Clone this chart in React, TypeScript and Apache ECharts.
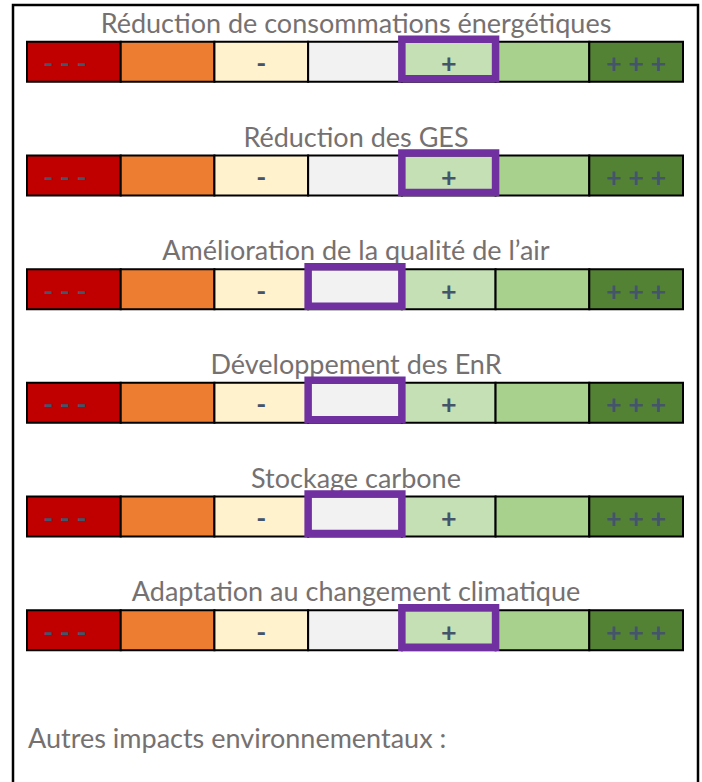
import React, { useEffect, useRef } from 'react';
import * as echarts from 'echarts';

const criteria = [
  'Réduction de consommations énergétiques',
  'Réduction des GES',
  'Amélioration de la qualité de l’air',
  'Développement des EnR',
  'Stockage carbone',
  'Adaptation au changement climatique',
];
const levels = ['---', '--', '-', '0', '+', '++', '+++'];
const levelLabels = ['- - -', '', '-', '', '+', '', '+ + +'];
const levelColors = ['#C00000', '#ED7D31', '#FFF2CC', '#F2F2F2', '#C5E0B4', '#A9D18E', '#548235'];
const selectedLevel = [4, 4, 3, 3, 3, 4];
const footerText = 'Autres impacts environnementaux :';

const FONT = 'Lato, "Open Sans", sans-serif';
const BAR_H = 40;

export default function App() {
  const ref = useRef<HTMLDivElement>(null);
  useEffect(() => {
    if (!ref.current) return;
    const chart = echarts.init(ref.current, null, { renderer: 'svg' });

    const cellData: number[][] = [];
    criteria.forEach((_, r) => levels.forEach((__, c) => cellData.push([c, r])));

    chart.setOption({
      animation: false,
      backgroundColor: '#ffffff',
      grid: { left: 27, right: 19, top: 5, bottom: 95 },
      xAxis: { type: 'category', data: levels, show: false, boundaryGap: true },
      yAxis: { type: 'category', data: criteria, show: false, inverse: true },
      graphic: [
        {
          type: 'rect',
          shape: { x: 13, y: 5, width: 685, height: 800 },
          style: { fill: 'none', stroke: '#000', lineWidth: 2.5 },
          z: 100,
        },
        {
          type: 'text',
          x: 28,
          y: 737,
          style: {
            text: footerText,
            fill: '#767171',
            fontSize: 27,
            fontFamily: FONT,
            align: 'left',
            verticalAlign: 'middle',
          },
        },
      ],
      series: [
        {
          type: 'custom',
          name: 'cells',
          data: cellData,
          renderItem: (params: any, api: any) => {
            const c = api.value(0);
            const r = api.value(1);
            const pt = api.coord([c, r]);
            const size = api.size([1, 1]);
            const w = size[0];
            const x0 = pt[0] - w / 2;
            const y0 = pt[1] - BAR_H / 2;
            const label = levelLabels[c];
            return {
              type: 'group',
              children: [
                {
                  type: 'rect',
                  shape: { x: x0, y: y0, width: w, height: BAR_H },
                  style: { fill: levelColors[c], stroke: '#000', lineWidth: 2 },
                },
                {
                  type: 'text',
                  style: {
                    text: label,
                    x: c === 0 ? pt[0] - 9 : pt[0],
                    y: pt[1] + 1,
                    align: 'center',
                    verticalAlign: 'middle',
                    fill: '#44546A',
                    fontSize: 27,
                    fontWeight: 'bold',
                    fontFamily: FONT,
                  },
                },
              ],
            };
          },
          z: 2,
        },
        {
          type: 'custom',
          name: 'titles',
          data: criteria.map((_, r) => [3, r]),
          renderItem: (params: any, api: any) => {
            const r = api.value(1);
            const pt = api.coord([3, r]);
            return {
              type: 'text',
              style: {
                text: criteria[r],
                x: pt[0] + 1,
                y: pt[1] - 39.5,
                align: 'center',
                verticalAlign: 'middle',
                fill: '#767171',
                fontSize: 27,
                fontFamily: FONT,
              },
            };
          },
          z: 3,
        },
        {
          type: 'custom',
          name: 'selection',
          data: selectedLevel.map((c, r) => [c, r]),
          renderItem: (params: any, api: any) => {
            const c = api.value(0);
            const r = api.value(1);
            const pt = api.coord([c, r]);
            const size = api.size([1, 1]);
            const w = size[0];
            return {
              type: 'rect',
              shape: { x: pt[0] - w / 2, y: pt[1] - BAR_H / 2 - 2.5, width: w, height: BAR_H - 0.5 },
              style: { fill: 'none', stroke: '#7030A0', lineWidth: 7.5 },
            };
          },
          z: 4,
        },
      ],
    });
    return () => chart.dispose();
  }, []);
  return (
    <div
      ref={ref}
      style={{ position: 'absolute', left: 0, top: 0, width: 702, height: 782 }}
    />
  );
}
